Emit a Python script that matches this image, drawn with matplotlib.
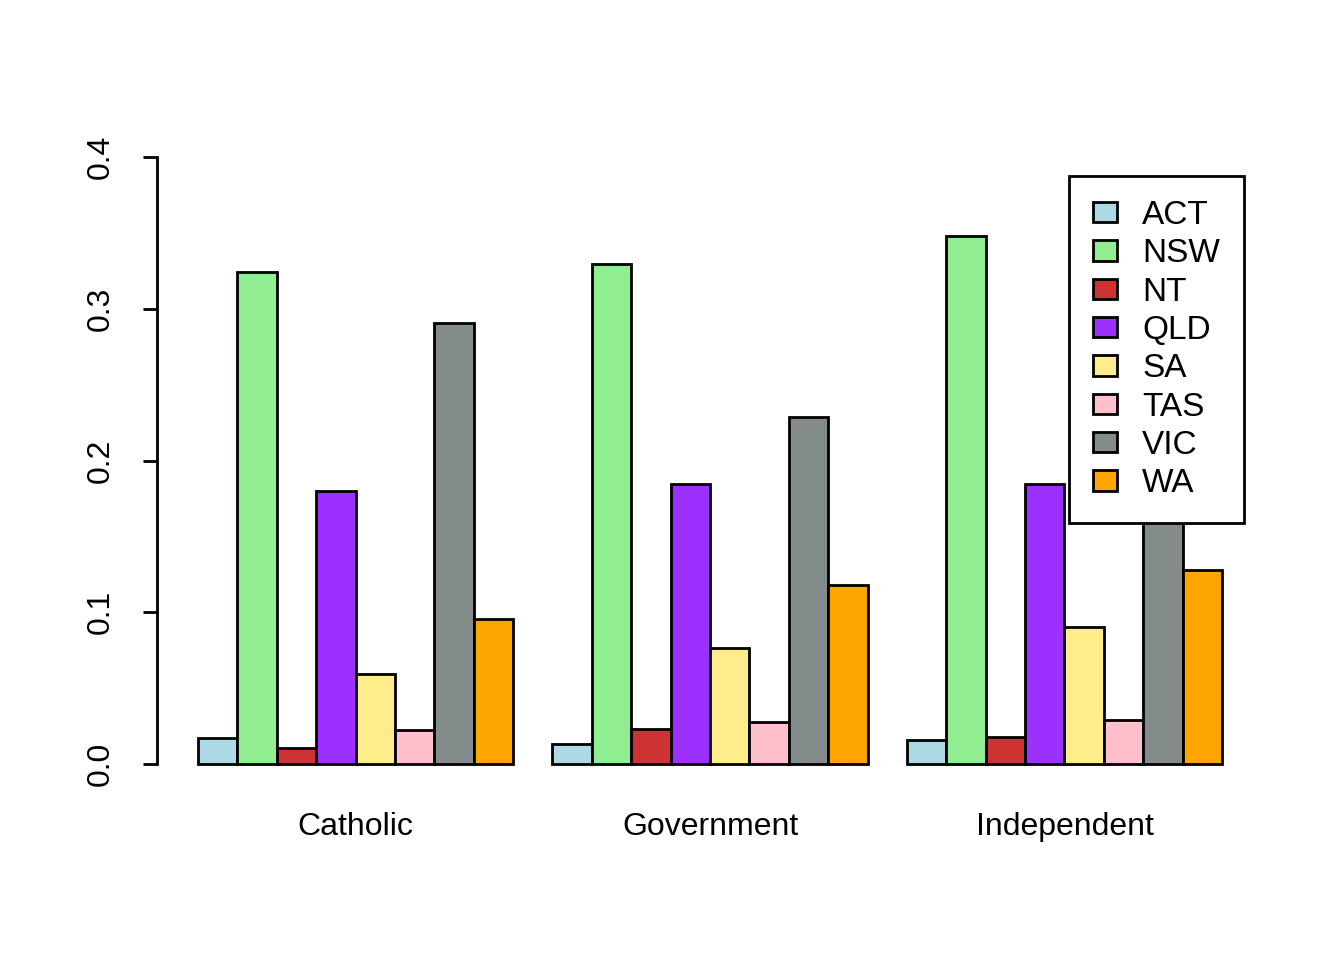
import numpy as np
import matplotlib.pyplot as plt

plt.rcParams['font.family'] = ['Liberation Sans', 'DejaVu Sans']

# Proportions by school type and state
groups = ["Catholic", "Government", "Independent"]
states = ["ACT", "NSW", "NT", "QLD", "SA", "TAS", "VIC", "WA"]
catholic = [0.0171, 0.324, 0.0105, 0.180, 0.0593, 0.0224, 0.291, 0.0956]
government = [0.0132, 0.3295, 0.0231, 0.1845, 0.0764, 0.0277, 0.2287, 0.118]
independent = [0.0158, 0.348, 0.0178, 0.1845, 0.0903, 0.029, 0.187, 0.128]
colors = ["#ADD8E6", "#90EE90", "#CD3333", "#9B30FF",
          "#FFEC8B", "#FFC0CB", "#838B8B", "#FFA500"]

values = np.array([catholic, government, independent])

fig = plt.figure(figsize=(13.44, 9.6), dpi=100)
W, H = 1344, 960
ax = fig.add_axes([157 / W, (H - 788) / H, (1263 - 157) / W, (788 - 133) / H])

n = len(states)
for g in range(len(groups)):
    start = 1 + g * (n + 1)
    for i in range(n):
        ax.bar(start + i + 0.5, values[g, i], width=1, color=colors[i],
               edgecolor="black", linewidth=2,
               label=states[i] if g == 0 else None)

ax.set_xlim(1 - 1.04, 27 + 1.04)
ax.set_ylim(-0.016, 0.416)

for s in ["top", "right", "bottom"]:
    ax.spines[s].set_visible(False)
ax.spines["left"].set_bounds(0, 0.4)
ax.spines["left"].set_linewidth(2)

ax.set_yticks([0.0, 0.1, 0.2, 0.3, 0.4])
ax.set_yticklabels(["0.0", "0.1", "0.2", "0.3", "0.4"], rotation=90, va="center")
ax.tick_params(axis="y", length=10, width=2, labelsize=23, pad=20)

centers = [1 + g * (n + 1) + n / 2 for g in range(len(groups))]
ax.set_xticks(centers)
ax.set_xticklabels(groups)
ax.tick_params(axis="x", length=0, labelsize=23, pad=17)

leg = ax.legend(loc="upper right", bbox_to_anchor=(1244 / W, 1 - 176 / H),
                bbox_transform=fig.transFigure, fontsize=24, frameon=True,
                fancybox=False, edgecolor="black", framealpha=1,
                handlelength=0.72, handleheight=0.57, labelspacing=0.22,
                handletextpad=0.76, borderpad=0.72, borderaxespad=0)
leg.get_frame().set_linewidth(2)
for p in leg.get_patches():
    p.set_linewidth(2)

fig.savefig("out.png", dpi=100)
